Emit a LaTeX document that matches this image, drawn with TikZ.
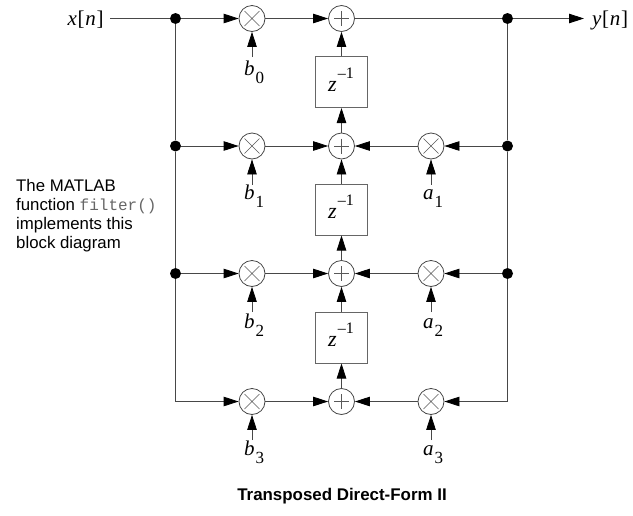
\documentclass[tikz,border=0pt]{standalone}
\usepackage{fontspec}
\setmainfont{Liberation Serif}
\setsansfont{Liberation Sans}
\setmonofont{Liberation Mono}
\usetikzlibrary{arrows.meta,shapes.misc,calc}
\newcommand{\coef}[2]{\fontsize{21}{21}\selectfont\textit{#1}\hspace{1pt}\raisebox{-8pt}{\fontsize{17}{17}\selectfont #2}}
\newcommand{\sig}[2]{\fontsize{21}{21}\selectfont\textit{#1}\hspace{0.7pt}[\hspace{0.7pt}\textit{#2}\hspace{0.7pt}]}
\newcommand{\zinv}{\hspace*{-1pt}\raisebox{-9pt}[0pt][0pt]{\fontsize{22}{22}\selectfont\textit{z}}\hspace{1pt}\raisebox{4pt}[0pt][0pt]{\fontsize{16}{16}\selectfont --1}}
\tikzset{
  x=1pt,y=-1pt,
  wire/.style={draw=black!72,line width=0.8pt},
  arr/.style={wire,-{Triangle[length=15pt,width=9.5pt,fill=black,color=black]}},
  mulnode/.style={circle,draw=black!72,line width=0.8pt,minimum size=26pt,inner sep=0pt,fill=white,
     path picture={\draw[black!65,line width=0.6pt]
       ($(path picture bounding box.center)+(-7.5,-7.5)$)--($(path picture bounding box.center)+(7.5,7.5)$)
       ($(path picture bounding box.center)+(-7.5,7.5)$)--($(path picture bounding box.center)+(7.5,-7.5)$);}},
  addnode/.style={circle,draw=black!72,line width=0.8pt,minimum size=26pt,inner sep=0pt,fill=white,
     path picture={\draw[black!65,line width=0.6pt]
       ($(path picture bounding box.center)+(-7.5,0)$)--($(path picture bounding box.center)+(7.5,0)$)
       ($(path picture bounding box.center)+(0,-7.5)$)--($(path picture bounding box.center)+(0,7.5)$);}},
  delaynode/.style={rectangle,draw=black!60,line width=1pt,minimum width=51.5pt,minimum height=51pt,inner sep=0pt,fill=white},
  dotnode/.style={circle,fill=black,inner sep=0pt,minimum size=11pt},
  coefnode/.style={inner sep=0pt,anchor=base west},
  signode/.style={inner sep=0pt,anchor=base west},
}
\begin{document}
\begin{tikzpicture}
\useasboundingbox (0,0) rectangle (633,515);
% junctions
\node[dotnode] (jl0) at (175.5,18.5) {};
\node[dotnode] (jl1) at (175.5,146) {};
\node[dotnode] (jl2) at (175.5,273.5) {};
\coordinate (jl3) at (175.5,401.5);
\node[dotnode] (jr0) at (507.5,18.5) {};
\node[dotnode] (jr1) at (507.5,146) {};
\node[dotnode] (jr2) at (507.5,273.5) {};
\coordinate (jr3) at (507.5,401.5);
% multipliers and adders
\foreach \i/\y in {0/18.5,1/146,2/273.5,3/401.5}{
  \node[mulnode] (mb\i) at (252,\y) {};
  \node[addnode] (ad\i) at (341.5,\y) {};
}
\foreach \i/\y in {1/146,2/273.5,3/401.5}{
  \node[mulnode] (ma\i) at (431,\y) {};
}
% delays
\node[delaynode] (z1) at (341.5,82) {\zinv};
\node[delaynode] (z2) at (341.5,209.5) {\zinv};
\node[delaynode] (z3) at (341.5,337.5) {\zinv};
% signal labels
\node[signode] (xn) at (67.5,25) {\sig{x}{n}};
\node[signode] (yn) at (592,25) {\sig{y}{n}};
\coordinate (xs) at (110,18.5);
\coordinate (ye) at (584,18.5);
% coefficient stubs
\foreach \i/\y in {0/57,1/184.5,2/312,3/440}{
  \coordinate (sb\i) at (252,\y);
}
\foreach \i/\y in {1/184.5,2/312,3/440}{
  \coordinate (sa\i) at (431,\y);
}
% coefficient labels
\node[coefnode] (b0) at (244,75) {\coef{b}{0}};
\node[coefnode] (b1) at (244,199) {\coef{b}{1}};
\node[coefnode] (b2) at (244,328) {\coef{b}{2}};
\node[coefnode] (b3) at (244,455) {\coef{b}{3}};
\node[coefnode] (a1) at (423,199) {\coef{a}{1}};
\node[coefnode] (a2) at (423,328) {\coef{a}{2}};
\node[coefnode] (a3) at (423,455) {\coef{a}{3}};
% bus lines
\draw[wire] (xs) -- (jl0);
\draw[wire] (jl0) -- (jl1);
\draw[wire] (jl1) -- (jl2);
\draw[wire] (jl2) -- (jl3);
\draw[wire] (jr0) -- (jr1);
\draw[wire] (jr1) -- (jr2);
\draw[wire] (jr2) -- (jr3);
\draw[wire] (ad0) -- (jr0);
\draw[arr] (jr0) -- (ye);
% forward paths
\draw[arr] (jl0) -- (mb0);
\draw[arr] (jl1) -- (mb1);
\draw[arr] (jl2) -- (mb2);
\draw[arr] (jl3) -- (mb3);
\foreach \i in {0,1,2,3}{
  \draw[arr] (mb\i) -- (ad\i);
  \draw[arr] (sb\i) -- (mb\i);
}
% backward paths
\draw[arr] (jr1) -- (ma1);
\draw[arr] (jr2) -- (ma2);
\draw[arr] (jr3) -- (ma3);
\foreach \i in {1,2,3}{
  \draw[arr] (ma\i) -- (ad\i);
  \draw[arr] (sa\i) -- (ma\i);
}
% vertical chain
\draw[arr] (z1) -- (ad0);
\draw[arr] (ad1) -- (z1);
\draw[arr] (z2) -- (ad1);
\draw[arr] (ad2) -- (z2);
\draw[arr] (z3) -- (ad2);
\draw[arr] (ad3) -- (z3);
% texts
\node[anchor=north west,inner sep=0pt,align=left,font=\sffamily\fontsize{16.8}{18.8}\selectfont] (note) at (16,179.4)
  {The MATLAB\\function {\ttfamily\fontsize{16}{18.8}\selectfont\color{black!60}filter()}\\implements this\\block diagram};
\node[inner sep=0pt,anchor=base,font=\sffamily\bfseries\fontsize{16.9}{18}\selectfont] (title) at (342,500) {Transposed Direct-Form II};
\end{tikzpicture}
\end{document}
